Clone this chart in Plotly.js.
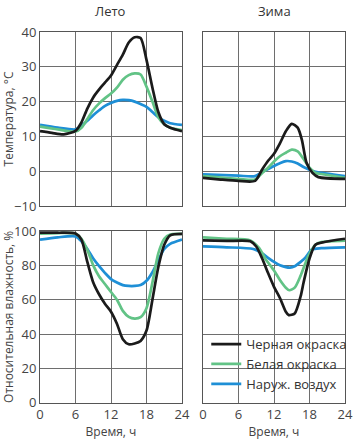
<!DOCTYPE html>
<html>
<head>
<meta charset="utf-8">
<script src="https://cdn.plot.ly/plotly-3.0.1.min.js"></script>
<style>html,body{margin:0;padding:0;background:#fff;}#chart{width:355px;height:440px;}</style>
</head>
<body>
<div id="chart"></div>
<script>
// Labels
const seriesNames = ["Черная окраска", "Белая окраска", "Наруж. воздух"];
const panelTitles = ["Лето", "Зима"];
const xTicks = [0, 6, 12, 18, 24];

// Summer temperature (°C)
const sumTBlackX = [0,2,4,6,7,8,9,10,11,12,13,14,15,16,17,18,19,20,21,22,24];
const sumTBlackY = [11.5,11,10.6,11.6,14,18,21.2,23.5,25.5,27.5,30.5,33.5,37,38.5,38.3,32,24,17,13.5,12.5,11.5];
const sumTWhiteX = [0,3,6,7,8,9,10,11,12,13,14,15,16,17,18,19,20,21,22,24];
const sumTWhiteY = [12.8,12,11.4,12.5,15,17.6,19.5,21,22.3,24,26.3,27.6,28.1,27.8,24.3,20,15.5,13.5,12.5,11.8];
const sumTAirX = [0,3,6,7,8,9,10,11,12,13,14,15,16,17,18,19,20,21,22,24];
const sumTAirY = [13.3,12.5,12.0,13,14.5,16.1,17.5,18.8,19.6,20.2,20.5,20.4,20,19.3,18.5,17,15.5,14.5,13.8,13.3];

// Winter temperature (°C)
const winTBlackX = [0,3,6,8.8,10,11,12,13,14,15,16,16.7,17.5,18.5,19.5,24];
const winTBlackY = [-1.9,-2.4,-2.8,-2.8,0.5,3,5,8,11.5,13.6,12.5,9.1,2.4,-0.5,-1.7,-2.2];
const winTWhiteX = [0,6,8.8,10,11,12,13,14,15,16,17,18,19,20,24];
const winTWhiteY = [-1.4,-2.2,-2.4,-0.5,1,2.8,4.3,5.3,6.2,5.7,3.5,1,-0.5,-0.8,-1.9];
const winTAirX = [0,6,8.8,10,11,12,13,14,15,16,17,18,19,24];
const winTAirY = [-0.9,-1.3,-1.4,-0.2,0.6,1.5,2.3,2.9,2.8,2.2,1.2,0.4,-0.2,-1.4];

// Summer relative humidity (%)
const sumHBlackX = [0,3,6,7,8,9,10,11,12,13,14,15,16,17,18,19,20,21,22,24];
const sumHBlackY = [99,99,98.5,95,82,70,63,57.5,53,46,37,34,34.5,36,42,60,79,92,97.5,98.3];
const sumHWhiteX = [0,3,6,7,8,9,10,11,12,13,14,15,16,17,18,19,20,21,22,24];
const sumHWhiteY = [98.5,98.8,98.5,95.5,89,80,73.5,69,64.5,60,53.5,50,49,49.8,55,70,87,95.5,98,98.3];
const sumHAirX = [0,3,6,7,8,9,10,11,12,13,14,15,16,17,18,19,20,21,22,24];
const sumHAirY = [95,96.3,96.8,94,89.5,84,79.5,75.5,72,70,68.5,68,68,68.5,71,76,83,89.5,92.5,95];

// Winter relative humidity (%)
const winHBlackX = [0,4,8,9,10,11,12,13,14,14.5,15.5,16.5,17,18,19,20.5,24];
const winHBlackY = [94.5,94.2,94,91,84,75.5,67.5,61,53,51,52,62,70,84,92,93.6,95.5];
const winHWhiteX = [0,4,8,9.5,10.5,12,13,14,14.6,15.5,16.5,17.8,19,20,24];
const winHWhiteY = [96.3,95.5,94.5,90,84,77,71.5,67,65.5,67,74,85.4,92,93.5,94.4];
const winHAirX = [0,4,8.5,10,11,12,13,14,14.7,15.5,16.5,17.3,18.4,20,24];
const winHAirY = [91,90.5,89.5,87,84.4,82,80,79,78.7,79.5,82,84.4,89.2,90,90.5];

const colors = ["#1b1b1b", "#62c386", "#1e8fd6"];
const FONT = "Open Sans, Lato, sans-serif";

function tr(x, y, idx, xa, ya, show) {
  return {x: x, y: y, xaxis: xa, yaxis: ya, type: "scatter", mode: "lines",
    name: seriesNames[idx], showlegend: show, legendrank: idx + 1,
    line: {color: colors[idx], width: 2.7, shape: "spline", smoothing: 0.7},
    hoverinfo: "skip"};
}

const data = [
  tr(sumTAirX, sumTAirY, 2, "x", "y", false),
  tr(sumTWhiteX, sumTWhiteY, 1, "x", "y", false),
  tr(sumTBlackX, sumTBlackY, 0, "x", "y", false),
  tr(winTAirX, winTAirY, 2, "x2", "y2", false),
  tr(winTWhiteX, winTWhiteY, 1, "x2", "y2", false),
  tr(winTBlackX, winTBlackY, 0, "x2", "y2", false),
  tr(sumHAirX, sumHAirY, 2, "x3", "y3", false),
  tr(sumHWhiteX, sumHWhiteY, 1, "x3", "y3", false),
  tr(sumHBlackX, sumHBlackY, 0, "x3", "y3", false),
  tr(winHAirX, winHAirY, 2, "x4", "y4", true),
  tr(winHWhiteX, winHWhiteY, 1, "x4", "y4", true),
  tr(winHBlackX, winHBlackY, 0, "x4", "y4", true)
];

const gridC = "#6e6e6e";
const tickFont = {family: FONT, size: 13, color: "#444"};

function xax(domain, anchor, showLabels) {
  return {domain: domain, anchor: anchor, range: [0, 24], tickvals: xTicks,
    ticktext: xTicks.map(String), showticklabels: showLabels,
    showgrid: true, gridcolor: gridC, gridwidth: 1, zeroline: false,
    showline: true, linecolor: "#555", linewidth: 1, mirror: true,
    ticks: "", tickfont: tickFont, fixedrange: true,
    title: showLabels ? {text: "Время, ч", font: {family: FONT, size: 12, color: "#444"}, standoff: 6} : {text: ""}};
}
function yax(domain, anchor, range, dtick, showLabels, title) {
  return {domain: domain, anchor: anchor, range: range, dtick: dtick,
    showticklabels: showLabels, showgrid: true, gridcolor: gridC, gridwidth: 1,
    zeroline: false, showline: true, linecolor: "#555", linewidth: 1, mirror: true,
    ticks: "", tickfont: tickFont, fixedrange: true,
    title: title ? {text: title, font: {family: FONT, size: 12, color: "#444"}, standoff: 1} : {text: ""}};
}

const dL = [40/355, 182/355], dR = [203/355, 345/355];
const dTop = [(440-206)/440, (440-32)/440], dBot = [(440-402.7)/440, (440-231)/440];

const layout = {
  width: 355, height: 440,
  margin: {l: 0, r: 0, t: 0, b: 0},
  paper_bgcolor: "#fff", plot_bgcolor: "#fff",
  font: {family: FONT, color: "#444"},
  xaxis: xax(dL, "y", false),
  yaxis: yax(dTop, "x", [-10, 40], 10, true, "Температура, °C"),
  xaxis2: xax(dR, "y2", false),
  yaxis2: yax(dTop, "x2", [-10, 40], 10, false, ""),
  xaxis3: xax(dL, "y3", true),
  yaxis3: yax(dBot, "x3", [0, 100], 20, true, "Относительная влажность, %"),
  xaxis4: xax(dR, "y4", true),
  yaxis4: yax(dBot, "x4", [0, 100], 20, false, ""),
  showlegend: true,
  legend: {x: 0.581, y: 0.252, xanchor: "left", yanchor: "top",
    bgcolor: "rgba(0,0,0,0)", borderwidth: 0,
    font: {family: FONT, size: 13, color: "#333"}, tracegroupgap: 0},
  annotations: [
    {text: panelTitles[0], x: (dL[0]+dL[1])/2, y: 1 - 11/440, xref: "paper", yref: "paper",
     showarrow: false, font: {family: FONT, size: 13, color: "#333"}, xanchor: "center", yanchor: "middle"},
    {text: panelTitles[1], x: (dR[0]+dR[1])/2, y: 1 - 11/440, xref: "paper", yref: "paper",
     showarrow: false, font: {family: FONT, size: 13, color: "#333"}, xanchor: "center", yanchor: "middle"}
  ]
};

Plotly.newPlot("chart", data, layout, {staticPlot: true, displayModeBar: false});
</script>
</body>
</html>
